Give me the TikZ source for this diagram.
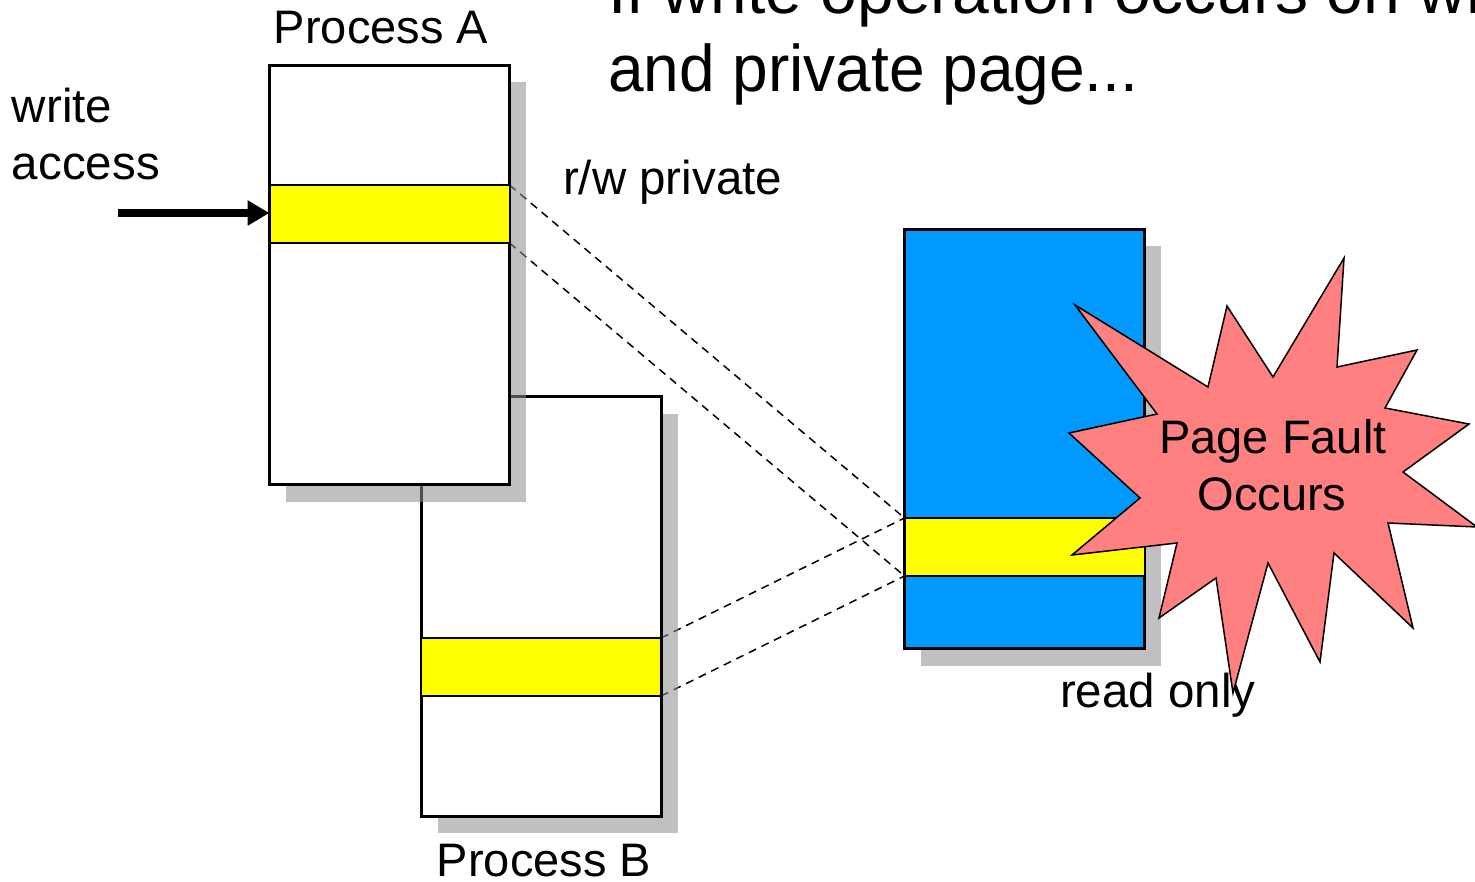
\documentclass[tikz,border=0pt]{standalone}
\usepackage{fontspec}
\setmainfont{Liberation Sans}
\usetikzlibrary{arrows.meta,shadows}

\definecolor{pageblue}{HTML}{0099FF}
\definecolor{pageyellow}{HTML}{FFFF00}
\definecolor{faultred}{HTML}{FF8080}

\pgfdeclarelayer{under}
\pgfsetlayers{under,main}

\tikzset{
  memframe/.style={draw=black, line width=3pt, fill=white,
    minimum width=240pt, minimum height=419pt, inner sep=0pt, outer sep=0pt,
    drop shadow={shadow xshift=16.5pt, shadow yshift=-17pt, fill=black!44, opacity=0.56}},
  pageband/.style={draw=black, line width=2pt, fill=pageyellow,
    minimum width=240pt, minimum height=58pt, inner sep=0pt, outer sep=0pt},
  mapline/.style={line width=1.5pt, dash pattern=on 8pt off 6pt},
  lbl/.style={inner sep=0pt, outer sep=0pt, anchor=base west, font=\fontsize{47.5pt}{54pt}\selectfont},
  ctrlbl/.style={inner sep=0pt, outer sep=0pt, anchor=base, font=\fontsize{47pt}{54pt}\selectfont},
  headline/.style={inner sep=0pt, outer sep=0pt, anchor=base west, font=\fontsize{66pt}{79pt}\selectfont},
  burst/.style={draw=black, line width=1.5pt, fill=faultred, line join=miter},
  writearrow/.style={line width=7.5pt, -{Triangle[length=22pt,width=24pt]}},
}

\begin{document}
\begin{tikzpicture}[x=1pt,y=-1pt]
\useasboundingbox (0,0) rectangle (1475,882);
\clip (0,0) rectangle (1475,882);

% heading
\node[headline] (head1) at (608,14) {If write operation occurs on write-protected};
\node[headline, xscale=0.97] (head2) at (608,92) {and private page...};

% process B address space
\node[memframe] (procB) at (541,606.5) {};
\node[pageband] (bandB) at (541,667) {};

% process A address space
\node[memframe] (procA) at (389.5,275) {};
\node[pageband] (bandA) at (389.5,214) {};

% physical page frame
\node[memframe, fill=pageblue] (frame) at (1024.5,439) {};
\node[pageband] (bandC) at (1024.5,547) {};

% mappings
\begin{pgfonlayer}{under}
  \draw[mapline] (bandA.north east) -- (bandC.north west);
  \draw[mapline] (bandA.south east) -- (bandC.south west);
  \draw[mapline] (bandB.north east) -- (bandC.north west);
  \draw[mapline] (bandB.south east) -- (bandC.south west);
\end{pgfonlayer}

% write access arrow
\coordinate (wsrc) at (118,213);
\draw[writearrow] (wsrc) -- (bandA.west |- wsrc);

% labels
\node[ctrlbl] (nameA) at (381,44) {Process A};
\node[ctrlbl] (nameB) at (544,876) {Process B};
\node[lbl] (wr1) at (12,123) {write};
\node[lbl] (wr2) at (12,180) {access};
\node[lbl] (rwp) at (563,195) {r/w private};
\node[lbl] (ro) at (1060,707) {read only};

% page fault burst
\draw[burst] (1075,305) -- (1208,387) -- (1227,306) -- (1273,377) -- (1344,258)
  -- (1337,367) -- (1417,350) -- (1385,408) -- (1469,424) -- (1403,472)
  -- (1477,527) -- (1388,523) -- (1413,628) -- (1334,553) -- (1320,662)
  -- (1268,563) -- (1233,693) -- (1216,578) -- (1159,618) -- (1177,543)
  -- (1072,555) -- (1140,498) -- (1069,433) -- (1157,414) -- cycle;
\node[ctrlbl] (pf1) at (1273,453) {Page Fault};
\node[ctrlbl] (pf2) at (1272,510) {Occurs};
\end{tikzpicture}
\end{document}
